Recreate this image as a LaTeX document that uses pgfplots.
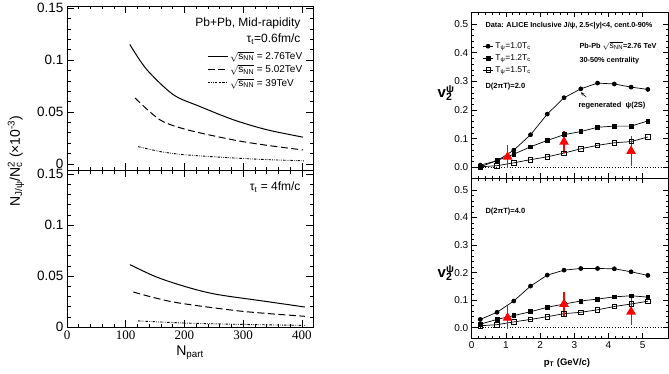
\documentclass[border=0pt]{standalone}
\usepackage{pgfplots}
\pgfplotsset{compat=1.18}
\usepackage{fontspec}
\setmainfont{Liberation Sans}
\newfontfamily\serifnum{Liberation Serif}
\newcommand\fs[1]{\fontsize{#1}{#1}\selectfont}
\pgfplotsset{
  rootstyle/.style={scale only axis, anchor=south west,
    axis line style={line width=0.8pt}, tick style={black, line width=0.6pt},
    tick align=inside, xtick pos=both, ytick pos=both,
    /pgf/number format/assume math mode=true,
    clip=true},
  leftax/.style={rootstyle, width=246pt, xmin=0, xmax=419,
    xtick={0,100,200,300,400}, minor x tick num=4,
    ytick={0,0.05,0.1,0.15}, yticklabels={0,0.05,0.1,0.15}, minor y tick num=4,
    major tick length=7pt, minor tick length=3.5pt,
    yticklabel style={font=\fs{13.5}},
    xticklabel style={font=\serifnum\fs{13}}},
  rightax/.style={rootstyle, width=196.3pt, xmin=0, xmax=5.74,
    xtick={0,1,2,3,4,5}, minor x tick num=4,
    ytick={0,0.1,0.2,0.3,0.4,0.5}, minor y tick num=4,
    yticklabel style={font=\fs{10}, /pgf/number format/.cd, fixed, fixed zerofill, precision=1},
    xticklabel style={font=\fs{10}},
    major tick length=5pt, minor tick length=2.5pt},
  dashdotdot/.style={line width=0.9pt, smooth, dash pattern=on 2.5pt off 1.2pt on 0.6pt off 1.2pt on 0.6pt off 1.2pt},
  longdash/.style={line width=1pt, smooth, dash pattern=on 7pt off 3.5pt},
  solidl/.style={line width=1pt, smooth},
  c1/.style={black, line width=0.7pt, mark=*, mark size=2pt},
  c2/.style={black, line width=0.7pt, mark=square*, mark size=1.9pt},
  c3/.style={black, line width=0.7pt, mark=square, mark size=2.2pt, mark options={fill=white, line width=0.7pt}},
  reddata/.style={color=red, line width=1.1pt, only marks, mark=triangle*, mark size=4.5pt,
    mark options={draw=red, fill=red},
    error bars/y dir=both, error bars/y explicit, error bars/error mark=none,
    error bars/error bar style={draw=red, color=red, line width=1.1pt}},
}
\begin{document}
\begin{tikzpicture}
\path[use as bounding box] (0,0) rectangle (669pt,373pt);

% ---------- left top ----------
\begin{axis}[leftax, at={(67pt,203pt)}, height=164pt, ymin=-0.0058, ymax=0.152,
  xticklabels={},
  legend style={draw=none, fill=none, at={(axis description cs:0.965,0.735)}, anchor=north east,
    font=\fs{10}, row sep=0pt, inner sep=0pt, cells={anchor=west}},
  legend image code/.code={\draw[#1] (0pt,0pt) -- (20pt,0pt);}]
\addplot[solidl] coordinates {(107,0.115) (135.6,0.091) (181,0.0667) (226,0.0554) (283,0.0426) (340,0.0330) (402,0.0258)};
\addlegendentry{$\sqrt{\mathrm{s}_{\mathrm{NN}}}$ = 2.76TeV}
\addplot[longdash] coordinates {(116,0.0635) (158,0.0426) (204,0.033) (283,0.0232) (340,0.0180) (402,0.0135)};
\addlegendentry{$\sqrt{\mathrm{s}_{\mathrm{NN}}}$ = 5.02TeV}
\addplot[dashdotdot] coordinates {(121,0.0167) (160,0.0118) (204,0.0087) (283,0.0058) (340,0.0042) (405,0.0030)};
\addlegendentry{$\sqrt{\mathrm{s}_{\mathrm{NN}}}$ = 39TeV}
\end{axis}
\node[anchor=east, font=\fs{12}] at (304pt,350pt) {Pb+Pb, Mid-rapidity};
\node[anchor=east, font=\fs{12}] at (304pt,334pt) {τ\textsubscript{t}=0.6fm/c};

% ---------- left bottom ----------
\begin{axis}[leftax, at={(67pt,46pt)}, height=157pt, ymin=0, ymax=0.154]
\addplot[solidl] coordinates {(107,0.0612) (152.6,0.049) (204,0.0392) (255,0.0320) (340,0.0250) (405,0.0196)};
\addplot[longdash] coordinates {(113,0.0343) (181,0.0245) (283,0.0164) (340,0.0133) (405,0.0105)};
\addplot[dashdotdot] coordinates {(121,0.0060) (200,0.0039) (300,0.0025) (405,0.0016)};
\end{axis}
\node[anchor=east, font=\fs{12}] at (304pt,186pt) {τ\textsubscript{t} = 4fm/c};
\node[rotate=90, font=\fs{14}] at (16pt,212pt) {N\textsubscript{J/ψ}/N\rlap{\textsuperscript{2}}\textsubscript{c} (×10\textsuperscript{-3})};
\node[font=\fs{14}] at (190pt,20pt) {N\textsubscript{part}};

% ---------- right top ----------
\begin{axis}[rightax, at={(471.7pt,194.7pt)}, height=166.3pt, ymin=-0.038, ymax=0.542,
  xticklabels={},
  legend style={draw=none, fill=none, at={(axis description cs:0.055,0.83)}, anchor=north west,
    font=\fs{8.5}, row sep=0.5pt, inner sep=0pt, cells={anchor=west}},
  legend image code/.code={\draw[mark repeat=2, mark phase=2, #1] plot coordinates {(0pt,0pt) (5pt,0pt) (10pt,0pt)};}]
\addplot[c1] coordinates {(0.25,0.008) (0.74,0.023) (1.23,0.060) (1.72,0.114) (2.21,0.186) (2.70,0.243) (3.19,0.274) (3.68,0.294) (4.17,0.291) (4.66,0.280) (5.15,0.272)};
\addlegendentry{T\textsubscript{ψ}=1.0T\textsubscript{c}}
\addplot[c2] coordinates {(0.25,0.002) (0.74,0.024) (1.23,0.046) (1.72,0.072) (2.21,0.094) (2.70,0.114) (3.19,0.125) (3.68,0.140) (4.17,0.144) (4.66,0.144) (5.15,0.162)};
\addlegendentry{T\textsubscript{ψ}=1.2T\textsubscript{c}}
\addplot[c3] coordinates {(0.25,0.002) (0.74,0.006) (1.23,0.016) (1.72,0.027) (2.21,0.037) (2.70,0.050) (3.19,0.065) (3.68,0.077) (4.17,0.086) (4.66,0.090) (5.15,0.106)};
\addlegendentry{T\textsubscript{ψ}=1.5T\textsubscript{c}}
\addplot[black, dotted, line width=0.7pt] coordinates {(0,0) (5.74,0)};
\addplot[reddata] coordinates {(1.05,0.037) +- (0,0.040) (2.70,0.089) +- (0,0.038) (4.66,0.057) +- (0,0.052)};
\draw[->, >=stealth, line width=0.6pt] (axis cs:3.35,0.245) -- (axis cs:3.19,0.262);
\end{axis}
\node[anchor=west, font=\bfseries\fs{7.3}] at (482pt,347pt) {Data: ALICE Inclusive J/ψ, 2.5<|y|<4, cent.0-90\%};
\node[anchor=west, font=\bfseries\fs{7.3}] at (576pt,327pt) {Pb-Pb \fs{8.5}$\sqrt{\mathrm{s}_{\mathrm{NN}}}$\fs{7.3}=2.76 TeV};
\node[anchor=west, font=\bfseries\fs{7.3}] at (576pt,312pt) {30-50\% centrality};
\node[anchor=west, font=\bfseries\fs{7.5}] at (482pt,286pt) {D(2πT)=2.0};
\node[anchor=west, font=\bfseries\fs{7.5}] at (575pt,267pt) {regenerated ~ψ(2S)};
\node[font=\bfseries\fs{15}] at (445pt,280pt) {v\rlap{\textsuperscript{ψ}}\textsubscript{2}};

% ---------- right bottom ----------
\begin{axis}[rightax, at={(471.7pt,34.7pt)}, height=160pt, ymin=-0.0385, ymax=0.5425]
\addplot[black, dotted, line width=0.7pt] coordinates {(0,0) (5.74,0)};
\addplot[c1] coordinates {(0.25,0.030) (0.74,0.056) (1.23,0.097) (1.72,0.151) (2.21,0.191) (2.70,0.209) (3.19,0.215) (3.68,0.215) (4.17,0.214) (4.66,0.203) (5.15,0.190)};
\addplot[c2] coordinates {(0.25,0.013) (0.74,0.030) (1.23,0.044) (1.72,0.058) (2.21,0.074) (2.70,0.086) (3.19,0.097) (3.68,0.104) (4.17,0.112) (4.66,0.116) (5.15,0.111)};
\addplot[c3] coordinates {(0.25,0.007) (0.74,0.011) (1.23,0.021) (1.72,0.030) (2.21,0.040) (2.70,0.051) (3.19,0.056) (3.68,0.065) (4.17,0.077) (4.66,0.086) (5.15,0.096)};
\addplot[reddata] coordinates {(1.05,0.036) +- (0,0.042) (2.70,0.086) +- (0,0.045) (4.66,0.058) +- (0,0.050)};
\end{axis}
\node[anchor=west, font=\bfseries\fs{7.5}] at (482pt,161pt) {D(2πT)=4.0};
\node[font=\bfseries\fs{15}] at (445pt,100pt) {v\rlap{\textsuperscript{ψ}}\textsubscript{2}};
\node[font=\bfseries\fs{9.5}] at (567pt,10pt) {p\textsubscript{T} (GeV/c)};
\end{tikzpicture}
\end{document}
